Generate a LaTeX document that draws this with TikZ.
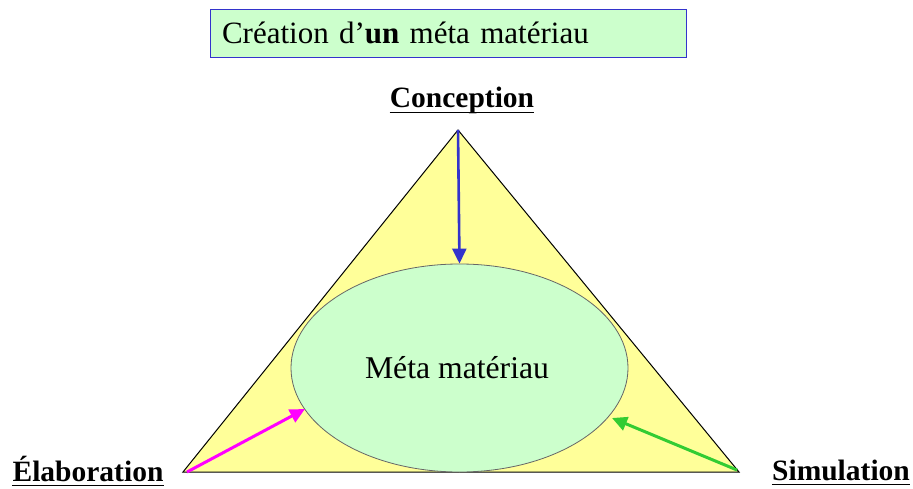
\documentclass[tikz,border=0pt]{standalone}
\usepackage{fontspec}
\setmainfont{Liberation Serif}
\usetikzlibrary{arrows.meta,shapes.geometric}
\definecolor{triyellow}{HTML}{FFFF99}
\definecolor{palegreen}{HTML}{CCFFCC}
\definecolor{arrblue}{HTML}{3333CC}
\definecolor{arrmag}{HTML}{FF00FF}
\definecolor{arrgreen}{HTML}{33CC33}
\tikzset{
  titlebox/.style={draw=arrblue, fill=palegreen, line width=0.8pt, minimum width=476pt, minimum height=48pt, text width=452pt, align=left, inner xsep=12pt, font=\fontsize{31}{36}\selectfont},
  vlabel/.style={inner sep=0pt, font=\fontsize{29.5}{34}\selectfont\bfseries, anchor=base},
  ulline/.style={line width=1.8pt},
  tip/.style={-{Triangle[length=15pt,width=14pt]}},
}
\begin{document}
\begin{tikzpicture}[x=1pt,y=-1pt]
\useasboundingbox (0,0) rectangle (913,489);
% title
\node[titlebox] (title) at (448,33) {Création d’\textbf{un} méta matériau};
% triangle
\coordinate (A) at (458,130);
\coordinate (L) at (183,472);
\coordinate (R) at (739,472);
\draw[fill=triyellow, line width=1pt] (A) -- (L) -- (R) -- cycle;
% ellipse
\node[ellipse, draw=black!60, fill=palegreen, line width=0.8pt, minimum width=337pt, minimum height=208pt, inner sep=0pt] (E) at (459.5,368) {};
\node[inner sep=0pt, anchor=base, font=\fontsize{31.7}{36}\selectfont] (mm) at (457,378) {Méta matériau};
% labels
\node[vlabel] (con) at (462,108) {Conception};
\node[vlabel] (ela) at (88,481) {Élaboration};
\node[vlabel] (sim) at (841,480) {Simulation};
\foreach \n in {con,ela,sim}{
  \draw[ulline] ([yshift=-4.5pt]\n.base west) -- ([yshift=-4.5pt]\n.base east);
}
% arrows
\coordinate (bs) at (458,130);
\coordinate (ms) at (187,472);
\coordinate (me) at (305,409);
\coordinate (gs) at (737,470);
\coordinate (ge) at (612,418);
\draw[tip, arrblue, line width=2.6pt] (bs) -- (E.north);
\draw[tip, arrmag, line width=3pt] (ms) -- (me);
\draw[tip, arrgreen, line width=3pt] (gs) -- (ge);
\end{tikzpicture}
\end{document}
